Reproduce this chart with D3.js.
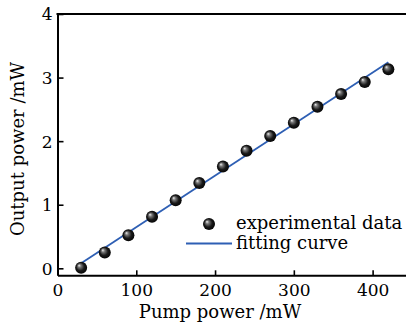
<!DOCTYPE html>
<html><head><meta charset="utf-8">
<script src="https://cdn.jsdelivr.net/npm/d3@7"></script>
<style>html,body{margin:0;padding:0;background:#fff;overflow:hidden}</style>
</head><body>
<svg id="c" width="406" height="329"></svg>
<script>
const pumpPower = [30, 60, 90, 120, 150, 180, 210, 240, 270, 300, 330, 360, 390, 420];
const outputPower = [0.01, 0.25, 0.52, 0.81, 1.07, 1.34, 1.60, 1.85, 2.08, 2.29, 2.54, 2.74, 2.93, 3.13];
const fitX = [30, 420];
const fitY = [0.08, 3.24];
const xTicks = [0, 100, 200, 300, 400];
const yTicks = [0, 1, 2, 3, 4];
const legendLabels = ["experimental data", "fitting curve"];

const svg = d3.select("#c");
const font = "DejaVu Serif";
const x = d3.scaleLinear().domain([0, 450]).range([57.5, 412]);
const y = d3.scaleLinear().domain([-0.11, 4]).range([275.3, 14]);

const defs = svg.append("defs");
const g = defs.append("radialGradient").attr("id", "ball")
  .attr("cx", "50%").attr("cy", "50%").attr("r", "55%")
  .attr("fx", "32%").attr("fy", "30%");
g.append("stop").attr("offset", "0%").attr("stop-color", "#f2f2f2");
g.append("stop").attr("offset", "25%").attr("stop-color", "#777");
g.append("stop").attr("offset", "60%").attr("stop-color", "#1a1a1a");
g.append("stop").attr("offset", "100%").attr("stop-color", "#000");

// axes
const xAxis = d3.axisBottom(x).tickValues(xTicks).tickFormat(d3.format("d")).tickSizeInner(-5).tickSizeOuter(0).tickPadding(9);
const yAxis = d3.axisLeft(y).tickValues(yTicks).tickFormat(d3.format("d")).tickSizeInner(-6).tickSizeOuter(0).tickPadding(5);
const gx = svg.append("g").attr("transform", `translate(0,${y(-0.11)})`).call(xAxis);
const gy = svg.append("g").attr("transform", `translate(${x(0)},0)`).call(yAxis);
[gx, gy].forEach(a => {
  a.attr("font-family", font).attr("font-size", 17);
  a.select(".domain").attr("stroke", "#000").attr("stroke-width", 2);
  a.selectAll(".tick line").attr("stroke", "#000").attr("stroke-width", 1.6);
  a.selectAll(".tick text").attr("fill", "#000");
});
gy.selectAll(".tick text").attr("dy", "0.35em");
gx.selectAll(".tick text").attr("dy", "0.71em");
// top spine
svg.append("line").attr("x1", x(0) - 1).attr("x2", x(450)).attr("y1", y(4)).attr("y2", y(4))
  .attr("stroke", "#000").attr("stroke-width", 2);

// fit line
svg.append("path").datum(d3.zip(fitX, fitY))
  .attr("d", d3.line().x(d => x(d[0])).y(d => y(d[1])))
  .attr("fill", "none").attr("stroke", "#2e5fb4").attr("stroke-width", 1.8);

// points
svg.selectAll("circle.pt").data(d3.zip(pumpPower, outputPower)).join("circle")
  .attr("class", "pt").attr("cx", d => x(d[0])).attr("cy", d => y(d[1])).attr("r", 6)
  .attr("fill", "url(#ball)");

// legend
svg.append("circle").attr("cx", 209).attr("cy", 224).attr("r", 6).attr("fill", "url(#ball)");
svg.append("line").attr("x1", 186).attr("x2", 232).attr("y1", 243.5).attr("y2", 243.5)
  .attr("stroke", "#2e5fb4").attr("stroke-width", 1.8);
svg.selectAll("text.leg").data(legendLabels).join("text").attr("class", "leg")
  .attr("x", 236).attr("y", (d, i) => 229 + i * 20)
  .attr("font-family", font).attr("font-size", 18).attr("fill", "#000").text(d => d);

// axis titles
svg.append("text").attr("x", 220).attr("y", 318).attr("text-anchor", "middle")
  .attr("font-family", font).attr("font-size", 18).text("Pump power /mW");
svg.append("text").attr("transform", "translate(24,149) rotate(-90)").attr("text-anchor", "middle")
  .attr("font-family", font).attr("font-size", 18).text("Output power /mW");
</script>
</body></html>
